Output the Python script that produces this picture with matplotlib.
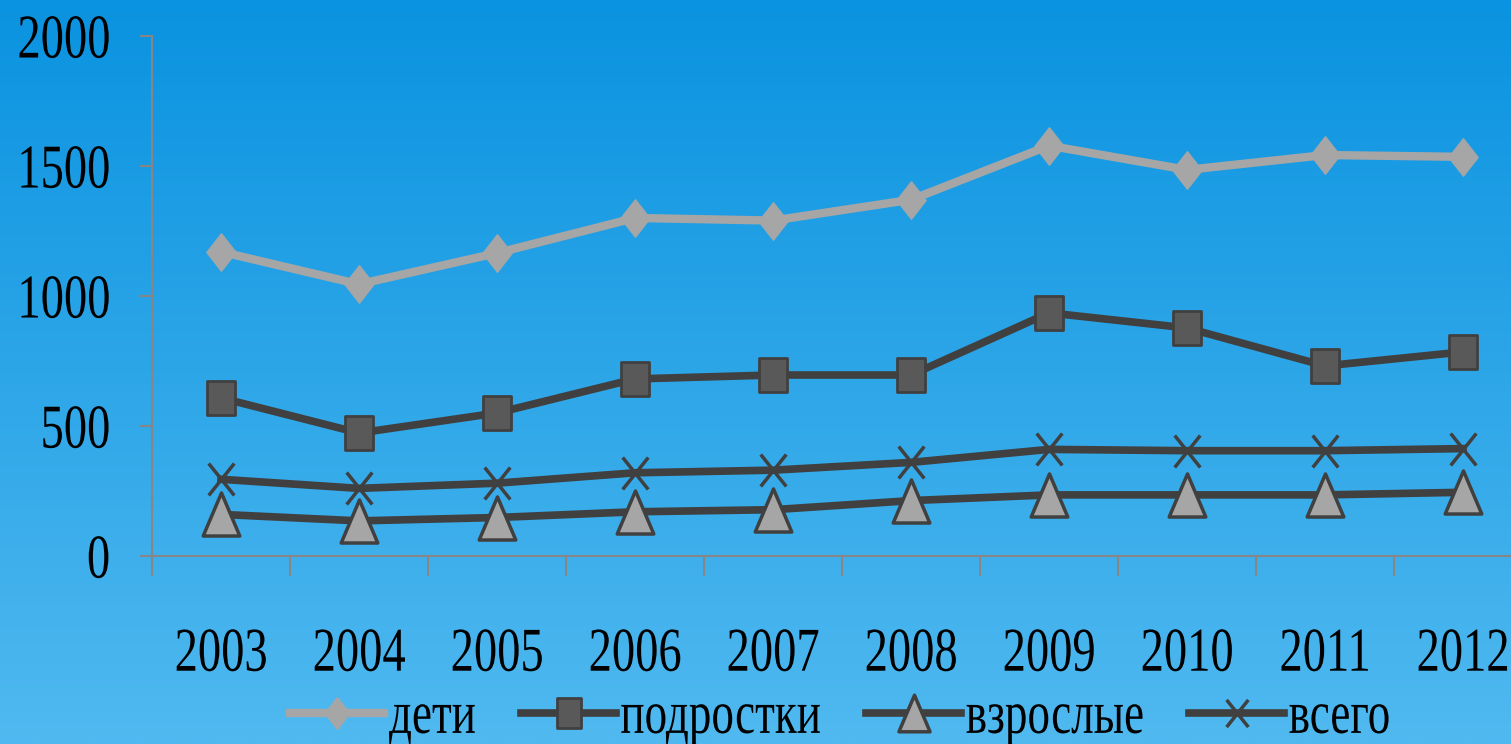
import numpy as np
import matplotlib
matplotlib.use("Agg")
import matplotlib.pyplot as plt
from matplotlib.path import Path
from matplotlib.transforms import Affine2D
from matplotlib.patheffects import AbstractPathEffect

# ---- data ----
years = ["2003", "2004", "2005", "2006", "2007", "2008", "2009", "2010", "2011", "2012"]
deti = [1170, 1045, 1165, 1300, 1290, 1370, 1578, 1485, 1542, 1535]
podrostki = [608, 473, 550, 681, 696, 696, 935, 877, 731, 785]
vzroslye = [160, 135, 148, 170, 178, 213, 235, 235, 235, 245]
vsego = [295, 260, 280, 320, 330, 360, 410, 405, 405, 413]
series_names = ["дети", "подростки", "взрослые", "всего"]
yticks = [0, 500, 1000, 1500, 2000]


class Stretch(AbstractPathEffect):
    """Stretch glyphs vertically about an anchor height (fraction of em)."""
    def __init__(self, sy, anchor):
        super().__init__()
        self.sy = sy
        self.anchor = anchor

    def draw_path(self, renderer, gc, tpath, affine, rgbFace=None):
        c = self.anchor * 100.0
        t = Affine2D().translate(0, -c).scale(1, self.sy).translate(0, c) + affine
        renderer.draw_path(gc, tpath, t, rgbFace)


FONT = "Liberation Serif"

fig = plt.figure(figsize=(15.11, 7.44), dpi=100)

# background gradient
bg = fig.add_axes([0, 0, 1, 1], zorder=-10)
top = np.array([10, 147, 224]) / 255.0
bot = np.array([80, 185, 240]) / 255.0
tvals = np.linspace(0, 1, 256)[:, None]
grad = top[None, :] * (1 - tvals) + bot[None, :] * tvals
grad = np.repeat(grad[:, None, :], 2, axis=1)
bg.imshow(grad, aspect="auto", extent=[0, 1, 0, 1], origin="upper")
bg.axis("off")

ax = fig.add_axes([0.1006, 0.2527, 0.9133, 0.699])
ax.patch.set_alpha(0)

# markers
diamond = Path([(0, 1), (0.78, 0), (0, -1), (-0.78, 0), (0, 1)], closed=True)
rect = Path([(-0.78, -1), (0.78, -1), (0.78, 1), (-0.78, 1), (-0.78, -1)], closed=True)
tri = Path([(-0.85, -1), (0.85, -1), (0, 1), (-0.85, -1)], closed=True)
xmark = Path([(-0.8, -1), (0.8, 1), (-0.8, 1), (0.8, -1)],
             [Path.MOVETO, Path.LINETO, Path.MOVETO, Path.LINETO])

x = np.arange(len(years))
dark = "#404040"
light = "#a6a6a6"
ax.plot(x, deti, color=light, lw=6, marker=diamond, ms=27, mfc=light, mec=light,
        mew=1, label=series_names[0], zorder=3)
ax.plot(x, podrostki, color=dark, lw=5.5, marker=rect, ms=25, mfc="#595959", mec=dark,
        mew=2, label=series_names[1], zorder=3)
ax.plot(x, vzroslye, color=dark, lw=5.5, marker=tri, ms=31, mfc=light, mec=dark,
        mew=2.5, label=series_names[2], zorder=3)
ax.plot(x, vsego, color=dark, lw=5.5, marker=xmark, ms=23, mfc="none", mec=dark,
        mew=2.5, label=series_names[3], zorder=4)

ax.set_xlim(-0.5, len(years) - 0.5)
ax.set_ylim(0, 2000)

spine_c = "#868686"
for s in ["top", "right"]:
    ax.spines[s].set_visible(False)
for s in ["left", "bottom"]:
    ax.spines[s].set_color(spine_c)
    ax.spines[s].set_linewidth(1.5)

ax.set_xticks(np.arange(-0.5, len(years), 1.0))
ax.set_xticklabels([])
ax.set_xticks(x, minor=True)
ax.set_xticklabels(years, minor=True)
ax.tick_params(axis="x", which="major", direction="out", length=14.4, width=1.5, color=spine_c)
ax.tick_params(axis="x", which="minor", length=0, pad=51.5)
ax.set_yticks(yticks)
ax.set_yticklabels([str(v) for v in yticks])
ax.tick_params(axis="y", which="major", direction="out", length=8.6, width=1.5, color=spine_c, pad=21.6)

for lab in ax.get_xticklabels(minor=True):
    lab.set_fontfamily(FONT)
    lab.set_fontsize(33.5)
    lab.set_color("black")
    lab.set_path_effects([Stretch(1.34, 0.676)])
for lab in ax.get_yticklabels():
    lab.set_fontfamily(FONT)
    lab.set_fontsize(33.5)
    lab.set_color("black")
    lab.set_path_effects([Stretch(1.34, 0.338)])

handles, labels = ax.get_legend_handles_labels()
leg = fig.legend(handles, labels, loc="center", bbox_to_anchor=(0.556, 0.035), ncol=4,
                 frameon=False, prop={"family": FONT, "size": 32.5},
                 handlelength=2.1, handletextpad=0.1, columnspacing=1.0,
                 markerscale=0.85, borderaxespad=0, borderpad=0)
for t in leg.get_texts():
    t.set_path_effects([Stretch(1.35, 0.23)])

fig.savefig("out.png", dpi=100)
